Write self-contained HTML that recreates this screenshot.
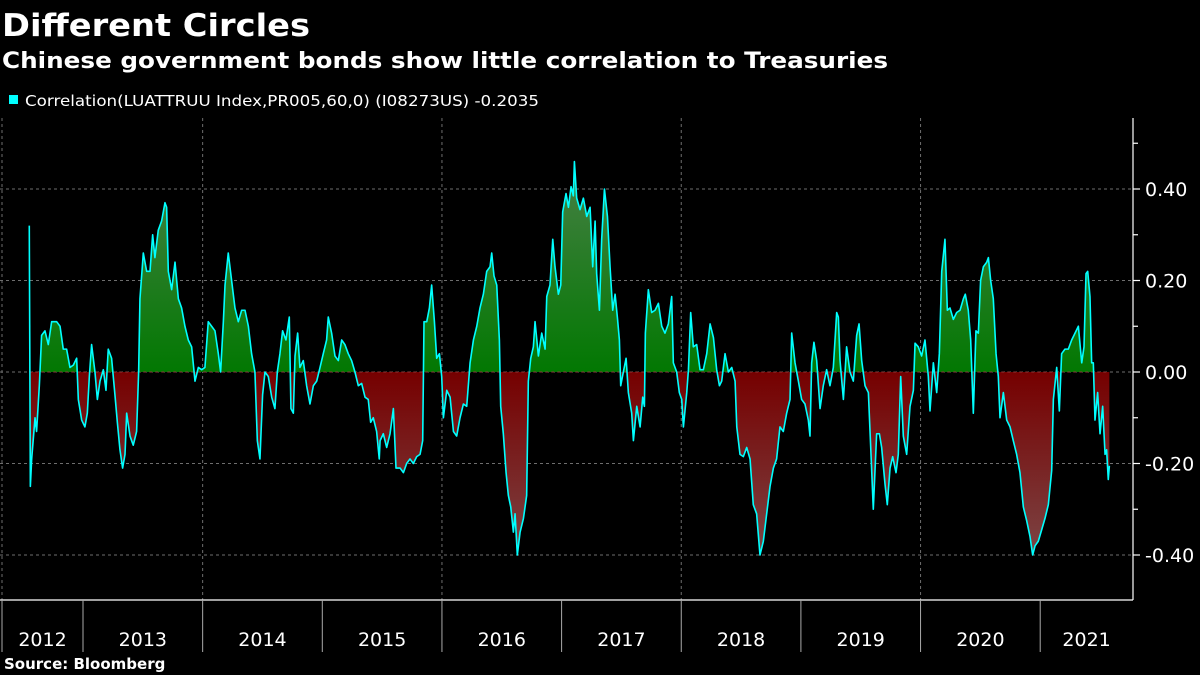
<!DOCTYPE html>
<html><head><meta charset="utf-8"><style>
html,body{margin:0;padding:0;background:#000;width:1200px;height:675px;overflow:hidden}
svg{display:block}
text{font-family:"DejaVu Sans","Liberation Sans",sans-serif;fill:#fff}
</style></head><body>
<svg id="chart" width="1200" height="675" viewBox="0 0 1200 675">
<defs>
<linearGradient id="gUp" gradientUnits="userSpaceOnUse" x1="0" y1="372" x2="0" y2="155"><stop offset="0" stop-color="#027802"/><stop offset="1" stop-color="#4a8048"/></linearGradient>
<linearGradient id="gDn" gradientUnits="userSpaceOnUse" x1="0" y1="372" x2="0" y2="560"><stop offset="0" stop-color="#760000"/><stop offset="1" stop-color="#7c4646"/></linearGradient>
<clipPath id="cUp"><rect x="0" y="0" width="1200" height="372"/></clipPath>
<clipPath id="cDn"><rect x="0" y="372" width="1200" height="300"/></clipPath>
</defs>
<text x="2" y="36" font-size="31" font-weight="bold" textLength="308" lengthAdjust="spacingAndGlyphs">Different Circles</text>
<text x="2" y="68" font-size="22" font-weight="bold" textLength="886" lengthAdjust="spacingAndGlyphs">Chinese government bonds show little correlation to Treasuries</text>
<rect x="9" y="95" width="9" height="9" fill="#00ffff"/>
<text x="25" y="106" font-size="15" font-family="Liberation Sans" textLength="514" lengthAdjust="spacingAndGlyphs">Correlation(LUATTRUU Index,PR005,60,0) (I08273US) -0.2035</text>
<g id="grid"></g>
<g id="series"></g>
<g id="axes"></g>
<text x="4" y="669" font-size="15" font-weight="bold">Source: Bloomberg</text>
</svg>
<script>
const yTickValues=[0.4,0.2,0,-0.2,-0.4];
const yTickLabels=["0.40","0.20","0.00","-0.20","-0.40"];
const yearLabels=["2012","2013","2014","2015","2016","2017","2018","2019","2020","2021"];
const gridYears=[2014,2016,2018,2020];
const dates=[2012.551,2012.560,2012.571,2012.599,2012.612,2012.635,2012.654,2012.682,2012.710,2012.738,2012.780,2012.808,2012.835,2012.863,2012.891,2012.919,2012.947,2012.961,2012.989,2013.016,2013.036,2013.053,2013.072,2013.100,2013.120,2013.142,2013.170,2013.192,2013.211,2013.239,2013.267,2013.287,2013.309,2013.331,2013.351,2013.365,2013.393,2013.420,2013.448,2013.465,2013.476,2013.504,2013.532,2013.560,2013.582,2013.601,2013.629,2013.657,2013.685,2013.699,2013.713,2013.741,2013.769,2013.797,2013.824,2013.852,2013.880,2013.908,2013.936,2013.964,2013.992,2014.019,2014.047,2014.075,2014.103,2014.131,2014.150,2014.173,2014.187,2014.214,2014.242,2014.270,2014.298,2014.326,2014.354,2014.382,2014.409,2014.437,2014.457,2014.479,2014.501,2014.521,2014.549,2014.577,2014.604,2014.624,2014.646,2014.668,2014.696,2014.724,2014.738,2014.758,2014.772,2014.794,2014.813,2014.841,2014.869,2014.897,2014.925,2014.953,2014.981,2015.008,2015.036,2015.050,2015.078,2015.106,2015.134,2015.162,2015.189,2015.217,2015.245,2015.273,2015.301,2015.329,2015.357,2015.384,2015.404,2015.426,2015.454,2015.476,
2015.483,2015.510,2015.538,2015.566,2015.594,2015.616,2015.650,2015.678,2015.705,2015.733,2015.761,2015.789,2015.817,2015.839,2015.850,2015.873,2015.895,2015.914,2015.937,2015.956,2015.979,2015.998,2016.012,2016.040,2016.068,2016.096,2016.123,2016.151,2016.179,2016.207,2016.235,2016.263,2016.291,2016.318,2016.346,2016.374,2016.402,2016.416,2016.435,2016.458,2016.480,2016.491,2016.513,2016.536,2016.555,2016.575,2016.597,2016.611,2016.630,2016.653,2016.681,2016.708,2016.722,2016.742,2016.764,2016.778,2016.806,2016.834,2016.862,2016.876,2016.903,2016.926,2016.945,2016.973,2016.993,2017.009,2017.037,2017.057,2017.079,2017.098,2017.107,2017.126,2017.154,2017.182,2017.210,2017.238,2017.260,2017.280,2017.293,2017.316,2017.335,2017.358,2017.383,2017.405,2017.427,2017.447,2017.466,2017.483,2017.494,2017.516,2017.539,2017.558,2017.586,2017.600,2017.628,2017.656,2017.678,2017.692,2017.700,2017.725,2017.753,2017.781,2017.809,2017.837,2017.864,2017.892,2017.920,2017.934,2017.962,2017.984,2018.004,2018.018,2018.046,2018.060,2018.079,2018.101,2018.129,2018.157,2018.185,2018.213,2018.241,2018.269,2018.296,2018.319,2018.338,2018.366,2018.394,2018.422,2018.450,2018.464,2018.491,2018.519,2018.547,
2018.575,2018.602,2018.630,2018.658,2018.686,2018.714,2018.742,2018.770,2018.797,2018.825,2018.853,2018.881,2018.909,2018.923,2018.951,2018.979,2019.006,2019.034,2019.062,2019.076,2019.090,2019.109,2019.132,2019.160,2019.187,2019.215,2019.243,2019.271,2019.299,2019.313,2019.327,2019.355,2019.382,2019.410,2019.438,2019.466,2019.486,2019.508,2019.536,2019.564,2019.586,2019.605,2019.633,2019.656,2019.675,2019.703,2019.722,2019.745,2019.767,2019.795,2019.814,2019.834,2019.856,2019.884,2019.912,2019.940,2019.954,2019.981,2020.009,2020.037,2020.065,2020.079,2020.107,2020.135,2020.157,2020.177,2020.204,2020.224,2020.246,2020.274,2020.302,2020.330,2020.358,2020.374,2020.399,2020.419,2020.441,2020.463,2020.483,2020.502,2020.525,2020.553,2020.567,2020.586,2020.608,2020.631,2020.650,2020.664,2020.692,2020.720,2020.748,2020.775,2020.803,2020.831,2020.859,2020.887,2020.915,2020.937,2020.957,2020.984,2021.012,2021.040,2021.068,2021.096,2021.110,2021.138,2021.160,2021.179,2021.207,2021.235,2021.263,2021.291,2021.319,2021.347,2021.366,2021.383,2021.397,2021.416,2021.430,2021.444,2021.458,2021.480,2021.500,2021.522,2021.542,2021.555,2021.569,2021.578];
const values=[0.32,-0.25,-0.19,-0.10,-0.13,-0.03,0.08,0.09,0.06,0.11,0.11,0.10,0.05,0.05,0.01,0.015,0.03,-0.06,-0.105,-0.12,-0.09,-0.01,0.06,0.0,-0.06,-0.02,0.005,-0.04,0.05,0.03,-0.05,-0.11,-0.17,-0.21,-0.18,-0.09,-0.14,-0.16,-0.13,0,0.16,0.26,0.22,0.22,0.30,0.25,0.31,0.33,0.37,0.36,0.22,0.18,0.24,0.16,0.14,0.10,0.07,0.055,-0.02,0.01,0.005,0.01,0.11,0.10,0.09,0.04,0.0,0.11,0.19,0.26,0.20,0.14,0.11,0.135,0.135,0.10,0.04,0.0,-0.15,-0.19,-0.05,0.0,-0.01,-0.055,-0.08,0.0,0.04,0.09,0.07,0.12,-0.08,-0.09,0.035,0.085,0.01,0.025,-0.03,-0.07,-0.03,-0.02,0.01,0.04,0.07,0.12,0.085,0.035,0.025,0.07,0.06,0.04,0.025,0.0,-0.03,-0.025,-0.055,-0.06,-0.11,-0.10,-0.13,-0.19,
-0.15,-0.135,-0.165,-0.135,-0.08,-0.21,-0.21,-0.22,-0.20,-0.19,-0.20,-0.185,-0.18,-0.15,0.11,0.11,0.14,0.19,0.11,0.03,0.04,-0.01,-0.10,-0.04,-0.055,-0.13,-0.14,-0.10,-0.07,-0.075,0.02,0.07,0.10,0.14,0.17,0.22,0.23,0.26,0.21,0.19,0.07,-0.075,-0.135,-0.22,-0.27,-0.295,-0.35,-0.31,-0.40,-0.35,-0.32,-0.27,-0.02,0.03,0.055,0.11,0.035,0.085,0.05,0.165,0.19,0.29,0.23,0.17,0.19,0.35,0.39,0.36,0.405,0.385,0.46,0.38,0.355,0.38,0.34,0.36,0.23,0.33,0.215,0.135,0.29,0.40,0.34,0.23,0.135,0.17,0.12,0.07,-0.03,0.0,0.03,-0.045,-0.09,-0.15,-0.075,-0.12,-0.055,-0.075,0.085,0.18,0.13,0.135,0.15,0.10,0.085,0.105,0.165,0.02,0.0,-0.045,-0.06,-0.12,-0.045,0.005,0.13,0.055,0.06,0.005,0.005,0.04,0.105,0.075,0.005,-0.03,-0.02,0.04,0.0,0.01,-0.02,-0.12,-0.18,-0.185,-0.165,
-0.19,-0.29,-0.31,-0.40,-0.37,-0.31,-0.25,-0.21,-0.19,-0.12,-0.13,-0.09,-0.06,0.085,0.02,-0.02,-0.06,-0.07,-0.105,-0.14,0.02,0.065,0.025,-0.08,-0.03,0.005,-0.03,0.01,0.13,0.12,0.025,-0.06,0.055,0.0,-0.02,0.08,0.105,0.025,-0.03,-0.045,-0.18,-0.30,-0.135,-0.135,-0.165,-0.245,-0.29,-0.21,-0.185,-0.22,-0.18,-0.01,-0.14,-0.18,-0.075,-0.04,0.063,0.055,0.035,0.07,-0.01,-0.085,0.02,-0.045,0.04,0.22,0.29,0.135,0.14,0.115,0.13,0.135,0.16,0.17,0.135,0.07,-0.09,0.09,0.085,0.20,0.23,0.24,0.25,0.20,0.16,0.04,-0.01,-0.10,-0.045,-0.105,-0.12,-0.15,-0.18,-0.22,-0.295,-0.325,-0.36,-0.40,-0.38,-0.37,-0.345,-0.32,-0.29,-0.215,-0.06,0.01,-0.085,0.04,0.05,0.05,0.07,0.085,0.10,0.02,0.055,0.215,0.22,0.165,0.02,0.02,-0.105,-0.045,-0.135,-0.075,-0.18,-0.17,-0.235,-0.205];

const NS="http://www.w3.org/2000/svg";
const plotLeft=0,plotRight=1133,plotTop=118,plotBottom=600;
function xScale(t){return 83+119.65*(t-2013);}
function yScale(v){return 372-v*457.5;}
function mk(tag,attrs,parent){const e=document.createElementNS(NS,tag);for(const k in attrs)e.setAttribute(k,attrs[k]);parent.appendChild(e);return e;}
const grid=document.getElementById('grid'),series=document.getElementById('series'),axes=document.getElementById('axes');

yTickValues.forEach(v=>{
  const l=mk('line',{x1:plotLeft,x2:plotRight,y1:yScale(v),y2:yScale(v),stroke:'#6e6e6e','stroke-dasharray':'3,3','stroke-width':1},grid);
  
  
});
gridYears.forEach(y=>{
  const l=mk('line',{x1:xScale(y),x2:xScale(y),y1:plotTop,y2:plotBottom,stroke:'#6e6e6e','stroke-dasharray':'3,3','stroke-width':1},grid);
  
  
});
const le=mk('line',{x1:2,x2:2,y1:plotTop,y2:plotBottom,stroke:'#6e6e6e','stroke-dasharray':'3,3'},grid);



let pts=dates.map((t,i)=>xScale(t).toFixed(2)+','+yScale(values[i]).toFixed(2));
const x0=xScale(dates[0]),x1=xScale(dates[dates.length-1]),y0=yScale(0);
const areaD='M'+x0+','+y0+' L'+pts.join(' L')+' L'+x1+','+y0+' Z';
const up=mk('path',{d:areaD,fill:'url(#gUp)','clip-path':'url(#cUp)'},series);


const dn=mk('path',{d:areaD,fill:'url(#gDn)','clip-path':'url(#cDn)'},series);


const zl=mk('line',{x1:x0,x2:x1,y1:y0,y2:y0,stroke:'#8a3a3a','stroke-dasharray':'3,3','stroke-width':1},series);


const line=mk('polyline',{points:pts.join(' '),fill:'none',stroke:'#00ffff','stroke-width':1.6,'stroke-linejoin':'round'},series);



// axes
const ra=mk('line',{x1:plotRight,x2:plotRight,y1:plotTop,y2:plotBottom,stroke:'#fff','stroke-width':1.2},axes);


for(let k=-5;k<=5;k++){
  const v=k/10;const y=yScale(v);
  if(y<plotTop||y>plotBottom)continue;
  const t=mk('line',{x1:plotRight,x2:plotRight+(k%2===0?7:5),y1:y,y2:y,stroke:'#fff','stroke-width':1.2},axes);
  
  
}
yTickValues.forEach((v,i)=>{
  const tx=mk('text',{x:1145,y:yScale(v)+7,'font-size':19,'font-family':'Liberation Sans'},axes);
  tx.textContent=yTickLabels[i];
  
  
});
const xa=mk('line',{x1:0,x2:plotRight,y1:plotBottom,y2:plotBottom,stroke:'#fff','stroke-width':1.2},axes);


const sep0=mk('line',{x1:2,x2:2,y1:plotBottom,y2:652,stroke:'#aaa'},axes);


yearLabels.forEach((lab,i)=>{
  const yr=+lab;
  if(i>0){
    const s=mk('line',{x1:xScale(yr),x2:xScale(yr),y1:plotBottom,y2:652,stroke:'#aaa','stroke-width':1},axes);
    
    
  }
  let a=Math.max(xScale(yr),2),b=Math.min(xScale(yr+1),plotRight);
  const tx=mk('text',{x:(a+b)/2,y:646,'font-size':19,'font-family':'Liberation Sans','text-anchor':'middle'},axes);
  tx.textContent=lab;
  
  
});
</script>
</body></html>
